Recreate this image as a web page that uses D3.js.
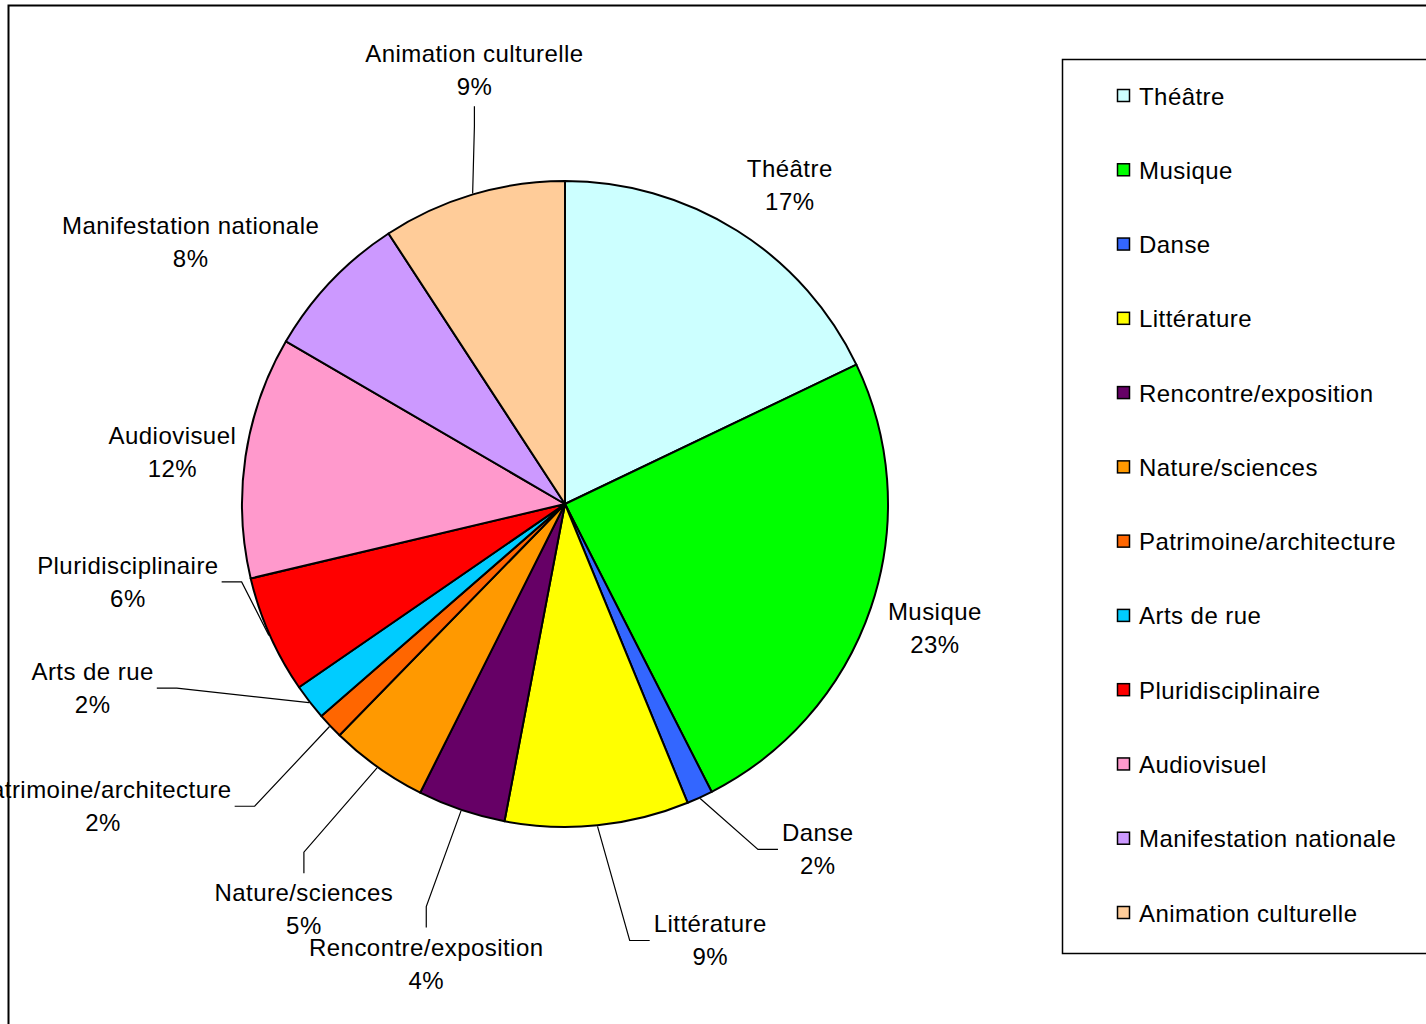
<!DOCTYPE html>
<html>
<head>
<meta charset="utf-8">
<script src="https://cdn.jsdelivr.net/npm/d3@7"></script>
<style>
  html, body { margin: 0; padding: 0; background: #fff; }
  svg { display: block; font-family: Arial, "Liberation Sans", sans-serif; }
  text { letter-spacing: 0.45px; }
</style>
</head>
<body>
<div id="container"></div>
<script>
// data (share in %) and the printed labels
var categories = ["Théâtre", "Musique", "Danse", "Littérature", "Rencontre/exposition",
    "Nature/sciences", "Patrimoine/architecture", "Arts de rue", "Pluridisciplinaire",
    "Audiovisuel", "Manifestation nationale", "Animation culturelle"];
var shares = [17.9, 24.6, 1.3, 9.2, 4.4, 4.9, 1.3, 1.8, 5.9, 12.1, 7.4, 9.2];
var pctLabels = ["17%", "23%", "2%", "9%", "4%", "5%", "2%", "2%", "6%", "12%", "8%", "9%"];
var colors = ["#CCFFFF", "#00FF00", "#3366FF", "#FFFF00", "#660066", "#FF9900",
    "#FF6600", "#00CCFF", "#FF0000", "#FF99CC", "#CC99FF", "#FFCC99"];

// label placement (polar, degrees from top) and which side the leader line hits
var labelAngle = [35.2, 108.5, 143.8, 161.6, 196.8, 212.8, 236.8, 248.7, 259.9, 277.5, 305, 348.2];
var labelRadius = [390, 390, 428, 460, 480, 482, 552, 507, 444, 396, 457, 443];
var leaderSide = [null, null, "left", "left", "top", "top", "right", "right", "right", null, null, "bottom"];

var W = 1426, H = 1024;
var cx = 565, cy = 504, R = 323;
var fontSize = 24;

var svg = d3.select("#container").append("svg")
    .attr("width", W)
    .attr("height", H);

// outer frame
svg.append("rect")
    .attr("x", 8.5).attr("y", 5.5)
    .attr("width", W + 20).attr("height", H + 20)
    .attr("fill", "none")
    .attr("stroke", "#000")
    .attr("stroke-width", 2);

var pie = d3.pie().sort(null).value(function(d) { return d.value; });
var data = categories.map(function(c, i) {
    return { name: c, value: shares[i], pct: pctLabels[i], color: colors[i], i: i };
});
var arcs = pie(data);
var arc = d3.arc().innerRadius(0).outerRadius(R);

var g = svg.append("g").attr("transform", "translate(" + cx + "," + cy + ")");

g.selectAll("path.slice")
    .data(arcs)
    .enter().append("path")
    .attr("class", "slice")
    .attr("d", arc)
    .attr("fill", function(d) { return d.data.color; })
    .attr("stroke", "#000")
    .attr("stroke-width", 2)
    .attr("stroke-linejoin", "round");

function polar(angDeg, r) {
    var a = angDeg * Math.PI / 180;
    return [r * Math.sin(a), -r * Math.cos(a)];
}

// labels
var labels = g.selectAll("text.lbl")
    .data(arcs)
    .enter().append("text")
    .attr("class", "lbl")
    .attr("text-anchor", "middle")
    .attr("font-size", fontSize)
    .attr("fill", "#000");

labels.each(function(d) {
    var p = polar(labelAngle[d.data.i], labelRadius[d.data.i]);
    d.lx = p[0]; d.ly = p[1];
    var t = d3.select(this);
    t.append("tspan").attr("x", p[0]).attr("y", p[1] - 16.5)
        .attr("dominant-baseline", "central").text(d.data.name);
    t.append("tspan").attr("x", p[0]).attr("y", p[1] + 16.5)
        .attr("dominant-baseline", "central").text(d.data.pct);
});

// leader lines
labels.each(function(d) {
    var side = leaderSide[d.data.i];
    if (!side) return;
    var bb = this.getBBox();
    var end, elbow;
    if (side == "left") {
        end = [bb.x - 4, d.ly]; elbow = [end[0] - 20, end[1]];
    } else if (side == "right") {
        end = [bb.x + bb.width + 3, d.ly]; elbow = [end[0] + 20, end[1]];
    } else if (side == "top") {
        end = [d.lx, bb.y - 6]; elbow = [end[0], end[1] - 21];
    } else {
        end = [d.lx, bb.y + bb.height + 6]; elbow = [end[0], end[1] + 20];
    }
    var mid = (d.startAngle + d.endAngle) / 2 * 180 / Math.PI;
    var start = polar(mid, R + 1);
    g.append("path")
        .attr("d", d3.line()([start, elbow, end]))
        .attr("fill", "none")
        .attr("stroke", "#000")
        .attr("stroke-width", 1.2);
});

// legend
var legend = svg.append("g");
legend.append("rect")
    .attr("x", 1062.5).attr("y", 59.5)
    .attr("width", 420).attr("height", 894)
    .attr("fill", "#fff")
    .attr("stroke", "#000")
    .attr("stroke-width", 1.5);

var rowY = d3.scalePoint().domain(categories).range([96, 913]);

var rows = legend.selectAll("g.row")
    .data(data)
    .enter().append("g")
    .attr("class", "row")
    .attr("transform", function(d) { return "translate(1117," + rowY(d.name) + ")"; });

rows.append("rect")
    .attr("x", 0.5).attr("y", -6.5)
    .attr("width", 12).attr("height", 12)
    .attr("fill", function(d) { return d.color; })
    .attr("stroke", "#000")
    .attr("stroke-width", 1.5);

rows.append("text")
    .attr("x", 22).attr("y", 0)
    .attr("dominant-baseline", "central")
    .attr("font-size", fontSize)
    .text(function(d) { return d.name; });
</script>
</body>
</html>
